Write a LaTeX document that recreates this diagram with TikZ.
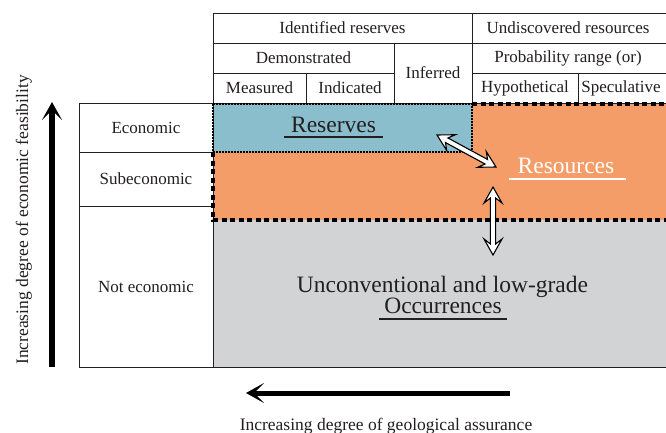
\documentclass[tikz,border=0pt]{standalone}
\usepackage{fontspec}
\setmainfont{Liberation Serif}
\usetikzlibrary{calc,arrows.meta}
\definecolor{txt}{RGB}{35,31,32}
\definecolor{resblue}{RGB}{138,190,205}
\definecolor{resorange}{RGB}{245,157,104}
\definecolor{occgray}{RGB}{210,211,213}
\tikzset{
  cell/.style={draw=txt, line width=0.9pt, inner sep=0pt, text=txt,
    font=\fontsize{17}{20}\selectfont},
  bigtxt/.style={inner sep=0pt, text=txt, font=\fontsize{23.5}{26}\selectfont},
  sidetxt/.style={inner sep=0pt, text=txt, font=\fontsize{17.5}{20}\selectfont},
  dotborder/.style={draw=black, line width=1.6pt, dash pattern=on 1.6pt off 1.4pt},
  thickdash/.style={draw=black, line width=3.2pt, dash pattern=on 5pt off 3.5pt},
  bigarrow/.style={line width=5.5pt, draw=black,
    -{Stealth[length=18pt,width=20pt,inset=10pt]}},
  hollowarr/.style={draw=black, fill=white, line width=1.1pt, line join=miter},
}
\newcommand\hollowdbl[2]{%
 \draw[hollowarr] (#1)
 -- ($(#1)!16pt!(#2)!9pt!90:(#2)$)
 -- ($(#1)!11pt!(#2)!2.6pt!90:(#2)$)
 -- ($(#2)!11pt!(#1)!2.6pt!-90:(#1)$)
 -- ($(#2)!16pt!(#1)!9pt!-90:(#1)$)
 -- (#2)
 -- ($(#2)!16pt!(#1)!9pt!90:(#1)$)
 -- ($(#2)!11pt!(#1)!2.6pt!90:(#1)$)
 -- ($(#1)!11pt!(#2)!2.6pt!-90:(#2)$)
 -- ($(#1)!16pt!(#2)!9pt!-90:(#2)$)
 -- cycle;}
\begin{document}
\begin{tikzpicture}[x=1pt,y=-1pt]
\useasboundingbox[fill=white] (0,0) rectangle (666,432);
% coloured regions
\fill[occgray] (213,220) rectangle (670,367);
\fill[resorange] (472,104) -- (670,104) -- (670,220) -- (213,220) -- (213,152) -- (472,152) -- cycle;
\fill[resblue] (213,104) rectangle (472,152);
% header table
\node[cell, minimum width=259pt, minimum height=30pt] (idr) at (342.5,28) {Identified reserves};
\node[cell, minimum width=196pt, minimum height=30pt] (und) at (570,28) {\hspace*{-2pt}Undiscovered resources\hspace*{2pt}};
\node[cell, minimum width=181pt, minimum height=30pt] (dem) at (303.5,58) {Demonstrated};
\node[cell, minimum width=78pt, minimum height=60pt] (inf) at (433,73) {Inferred};
\node[cell, minimum width=196pt, minimum height=30pt] (prob) at (570,58) {\hspace*{-2pt}Probability range (or)\hspace*{2pt}};
\node[cell, minimum width=93pt, minimum height=30pt] (mea) at (259.5,88) {Measured};
\node[cell, minimum width=88pt, minimum height=30pt] (ind) at (350,88) {Indicated};
\node[cell, minimum width=106pt, minimum height=30pt] (hyp) at (525,88) {Hypothetical};
\node[cell, minimum width=90pt, minimum height=30pt] (spe) at (623,88) {\hspace*{-2pt}Speculative\hspace*{2pt}};
% left table
\node[cell, minimum width=134pt, minimum height=49pt] (eco) at (146,127.5) {Economic};
\node[cell, minimum width=134pt, minimum height=54pt] (sube) at (146,179) {Subeconomic};
\node[cell, minimum width=134pt, minimum height=161pt] (note) at (146,286.5) {Not economic};
% gray region borders
\draw[txt, line width=0.9pt] (213,220) -- (213,367) -- (670,367);
% borders of reserves / resources
\draw[dotborder] (213,104) rectangle (472,152);
\draw[thickdash] (472,104) -- (670,104);
\draw[thickdash] (213,152) -- (213,220) -- (670,220);
% region labels
\node[bigtxt, anchor=base] (resv) at (333.5,132) {Reserves};
\draw[txt, line width=1.2pt] ($(resv.base)+(-49.5,5)$) -- ($(resv.base)+(49.5,5)$);
\node[bigtxt, anchor=base, text=white] (reso) at (566,173) {Resources};
\draw[white, line width=1.4pt] ($(reso.base)+(-57,6)$) -- ($(reso.base)+(60,6)$);
\node[bigtxt, anchor=base] (unc) at (442.5,292) {Unconventional and low-grade};
\node[bigtxt, anchor=base] (occ) at (443,313) {Occurrences};
\draw[txt, line width=1.2pt] ($(occ.base)+(-64,6)$) -- ($(occ.base)+(64,6)$);
% hollow double arrows
\coordinate (da1) at (437,135);
\coordinate (da2) at (496,167);
\hollowdbl{da1}{da2}
\coordinate (va1) at (493,187);
\coordinate (va2) at (493,255);
\hollowdbl{va1}{va2}
% axis arrows
\coordinate (ltail) at (52,367);
\coordinate (lhead) at (52,102);
\draw[bigarrow] (ltail) -- (lhead);
\coordinate (btail) at (510,393);
\coordinate (bhead) at (246,393);
\draw[bigarrow, line width=5pt] (btail) -- (bhead);
% axis labels
\node[sidetxt, anchor=base, rotate=90] (ylab) at (28,220) {Increasing degree of economic feasibility};
\node[sidetxt, anchor=base] (xlab) at (386,430) {Increasing degree of geological assurance};
\end{tikzpicture}
\end{document}
